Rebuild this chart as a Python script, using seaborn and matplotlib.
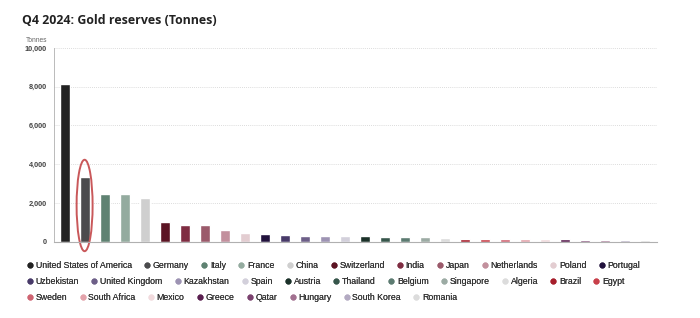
import matplotlib
matplotlib.use("Agg")
import matplotlib.pyplot as plt
import seaborn as sns
import pandas as pd
from matplotlib.patches import Ellipse
from matplotlib.lines import Line2D

countries = ["United States of America", "Germany", "Italy", "France", "China",
             "Switzerland", "India", "Japan", "Netherlands", "Poland", "Portugal",
             "Uzbekistan", "United Kingdom", "Kazakhstan", "Spain", "Austria",
             "Thailand", "Belgium", "Singapore", "Algeria", "Brazil", "Egypt",
             "Sweden", "South Africa", "Mexico", "Greece", "Qatar", "Hungary",
             "South Korea", "Romania"]
tonnes = [8133, 3352, 2452, 2437, 2280, 1040, 876, 846, 612, 448, 383,
          365, 310, 284, 282, 280, 235, 227, 220, 174, 130, 127,
          126, 125, 120, 114, 110, 110, 104, 104]
colors = ["#222222", "#4b4b4d", "#5f8272", "#94ab9f", "#cfcfcf",
          "#5c1424", "#7f2d42", "#9b5a6b", "#c2909d", "#e3cdd1", "#22123d",
          "#483a69", "#6d5f88", "#9d93b3", "#d3d0db", "#1b3129",
          "#37564b", "#5c7b71", "#9caba4", "#dcdcdc", "#a61e2b", "#c8404a",
          "#cf6472", "#e3a3ab", "#f1dadd", "#5a1f50", "#7b426f", "#a27190",
          "#b3aac2", "#dcdcdc"]
legend_rows = [11, 11, 8]

df = pd.DataFrame({"country": countries, "tonnes": tonnes})

sns.set_style("white")
plt.rcParams["font.family"] = ["Liberation Sans", "DejaVu Sans"]

fig = plt.figure(figsize=(7, 3.18), dpi=100)
ax = fig.add_axes([54 / 700, 1 - 241.7 / 318, (657 - 54) / 700, (241.7 - 48) / 318])

sns.barplot(data=df, x="country", y="tonnes", hue="country", palette=colors,
            order=countries, hue_order=countries, legend=False, width=0.5,
            saturation=1, ax=ax)

ax.set_xlim(-0.55, 29.6)
ax.set_ylim(0, 10000)
ax.set_yticks(range(0, 10001, 2000))
ax.set_yticklabels([f"{v:,}" for v in range(0, 10001, 2000)],
                   fontsize=5.3, color="#444444", fontweight="bold")
ax.tick_params(axis="y", length=0, pad=5)
ax.set_xticks([])
ax.set_xlabel("")
ax.set_ylabel("")
ax.grid(axis="y", color="#d0d0d0", linestyle=(0, (1, 1.5)), linewidth=0.6)
ax.set_axisbelow(True)
for s in ["top", "right"]:
    ax.spines[s].set_visible(False)
ax.spines["left"].set_color("#b0b0b0")
ax.spines["left"].set_linewidth(0.6)
ax.spines["bottom"].set_color("#b0b0b0")
ax.spines["bottom"].set_linewidth(0.8)

fig.text(47 / 700, 1 - 40 / 318, "Tonnes", ha="right", va="center",
         fontsize=4.8, color="#666666")

fig.text(22 / 700, 1 - 20 / 318, "Q4 2024: Gold reserves (Tonnes)", fontsize=8.9,
         fontweight="bold", family="Open Sans", color="#222222", va="center", ha="left")

# highlight ellipse around Germany
ell = Ellipse((0.98, 1870), width=0.8, height=4720, fill=False,
              edgecolor="#c9585a", linewidth=1.4, clip_on=False)
ax.add_patch(ell)

# flowing legend, one legend per row
idx = 0
row_y = [266, 282, 298]
for n, yy in zip(legend_rows, row_y):
    handles = [Line2D([], [], marker="o", linestyle="", markersize=3.3,
                      markerfacecolor=colors[i], markeredgecolor=colors[i])
               for i in range(idx, idx + n)]
    labels = countries[idx:idx + n]
    leg = fig.legend(handles, labels, loc="center left",
                     bbox_to_anchor=(23.5 / 700, 1 - yy / 318), ncol=n,
                     frameon=False, fontsize=6.3, handlelength=0.5,
                     handletextpad=0.4, columnspacing=1.5, borderpad=0,
                     labelcolor="#333333")
    fig.add_artist(leg)
    idx += n

fig.savefig("out.png", dpi=100, facecolor="white")
